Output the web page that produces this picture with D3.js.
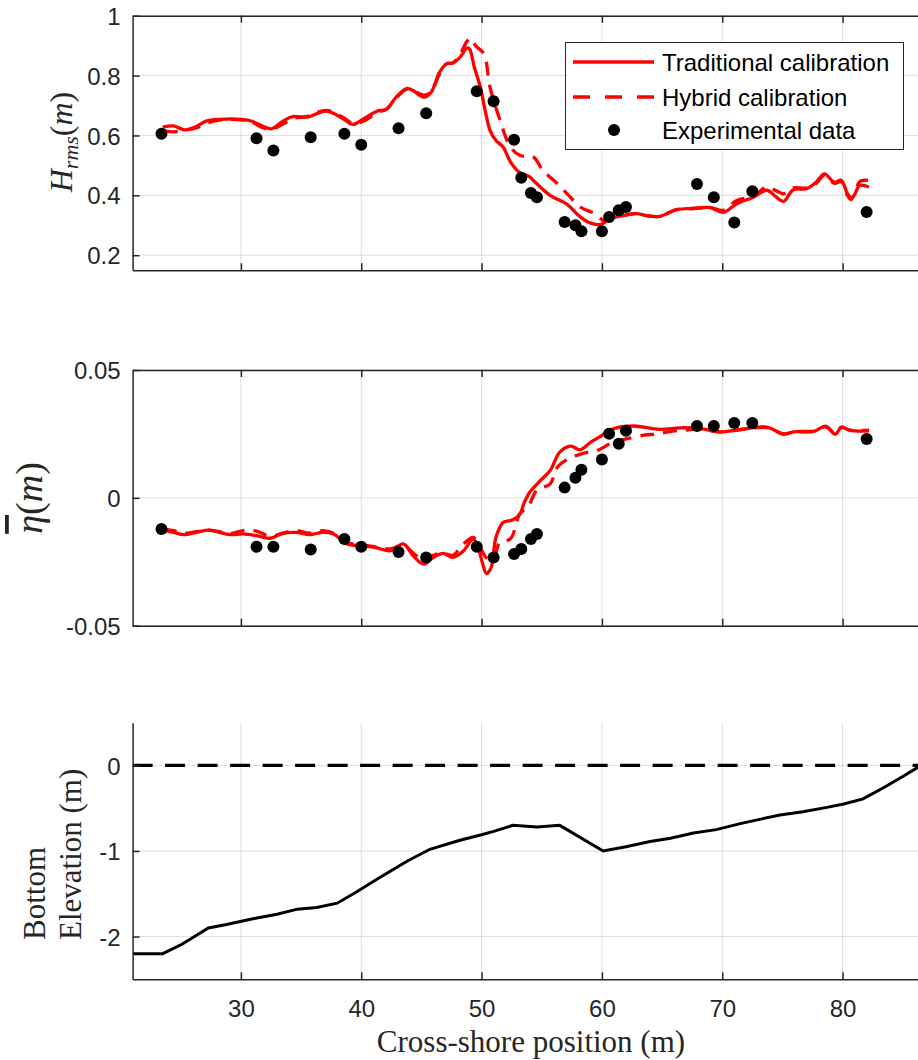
<!DOCTYPE html>
<html>
<head>
<meta charset="utf-8">
<script src="https://cdn.jsdelivr.net/npm/d3@7"></script>
<style>
  body { margin: 0; background: #fff; }
  svg { display: block; }
</style>
</head>
<body>
<div id="chart"></div>
<script>
// experimental data (shared stations)
const expX = [23.4, 31.3, 32.7, 35.8, 38.6, 40.0, 43.1, 45.4, 49.6, 51.0, 52.7, 53.3, 54.1, 54.6,
  56.9, 57.8, 58.3, 60.0, 60.6, 61.4, 62.0, 67.9, 69.3, 71.0, 72.5, 82.0];
const expH = [0.606, 0.591, 0.550, 0.594, 0.606, 0.569, 0.624, 0.674, 0.748, 0.714, 0.586, 0.459, 0.408, 0.394,
  0.311, 0.300, 0.280, 0.280, 0.328, 0.350, 0.361, 0.438, 0.394, 0.309, 0.414, 0.344];
const expSetup = [-0.0122, -0.0191, -0.0191, -0.0202, -0.0161, -0.0191, -0.0212, -0.0233, -0.0191, -0.0233, -0.0220, -0.0200, -0.0161, -0.0141,
  0.0040, 0.0079, 0.0110, 0.0150, 0.0251, 0.0212, 0.0262, 0.0281, 0.0281, 0.0293, 0.0293, 0.0230];

// traditional calibration, Hrms
const tradHX = [23.5, 24.4, 25.3, 26.3, 27.1, 28.3, 30.0, 30.7, 31.9, 32.5, 33.5, 34.3, 35.5, 37.1, 38.5, 39.3,
  40.2, 41.3, 42.1, 42.9, 43.8, 44.3, 45.2, 45.8, 46.5, 47.1, 47.6, 48.2, 48.8, 49.0, 49.4, 49.9,
  50.3, 50.7, 51.2, 51.8, 52.4, 53.2, 54.0, 54.3, 55.7, 57.1, 58.2, 59.0, 59.9, 60.7, 61.8, 62.9,
  63.7, 64.8, 66.2, 67.6, 69.0, 70.1, 71.2, 72.6, 73.7, 74.5, 75.1, 75.9, 77.0, 77.8, 78.5, 79.3,
  79.9, 80.4, 80.8, 81.4, 81.7, 82.2];
const tradH = [0.628, 0.632, 0.619, 0.630, 0.648, 0.654, 0.654, 0.650, 0.630, 0.622, 0.648, 0.663, 0.661, 0.681, 0.656, 0.637,
  0.656, 0.681, 0.688, 0.728, 0.757, 0.750, 0.728, 0.744, 0.811, 0.839, 0.842, 0.861, 0.892, 0.889, 0.828, 0.761,
  0.683, 0.617, 0.583, 0.561, 0.512, 0.475, 0.462, 0.450, 0.400, 0.370, 0.328, 0.308, 0.303, 0.322, 0.333, 0.339,
  0.332, 0.330, 0.352, 0.356, 0.359, 0.343, 0.372, 0.394, 0.417, 0.394, 0.380, 0.419, 0.422, 0.444, 0.472, 0.444,
  0.450, 0.406, 0.392, 0.433, 0.433, 0.428];

// hybrid calibration, Hrms
const hybHX = [23.6, 24.4, 25.3, 26.3, 27.1, 28.3, 30.0, 30.7, 31.9, 32.5, 33.5, 34.3, 35.5, 37.1, 38.5, 39.3,
  40.2, 41.3, 42.1, 42.9, 43.8, 44.3, 45.2, 45.8, 46.5, 47.1, 47.6, 48.2, 48.8, 49.1, 49.5, 50.2,
  50.7, 51.5, 52.4, 53.2, 54.3, 55.1, 56.3, 57.1, 58.2, 59.4, 60.2, 60.7, 61.8, 62.9, 63.7, 64.8,
  66.2, 67.6, 69.0, 70.1, 71.2, 72.6, 73.7, 74.5, 75.1, 75.9, 77.0, 77.8, 78.5, 79.3, 79.9, 80.4,
  80.7, 81.4, 81.7, 82.2];
const hybH = [0.615, 0.612, 0.617, 0.625, 0.640, 0.652, 0.652, 0.648, 0.625, 0.620, 0.638, 0.656, 0.664, 0.684, 0.660, 0.640,
  0.648, 0.676, 0.688, 0.725, 0.755, 0.750, 0.735, 0.745, 0.805, 0.840, 0.842, 0.870, 0.915, 0.925, 0.900, 0.872,
  0.761, 0.655, 0.561, 0.533, 0.528, 0.483, 0.439, 0.406, 0.361, 0.339, 0.315, 0.322, 0.333, 0.339, 0.332, 0.330,
  0.352, 0.356, 0.359, 0.350, 0.383, 0.398, 0.428, 0.415, 0.405, 0.425, 0.425, 0.440, 0.468, 0.440, 0.445, 0.400,
  0.386, 0.445, 0.450, 0.450];

// traditional calibration, setup
const tradSX = [23.5, 24.4, 25.3, 26.3, 27.3, 28.0, 29.1, 30.2, 31.3, 32.4, 33.5, 34.6, 35.7, 36.8, 37.7, 38.8,
  40.2, 41.3, 42.4, 43.5, 44.3, 45.2, 46.0, 46.8, 47.6, 48.5, 49.3, 49.7, 50.1, 50.4, 50.8, 51.2,
  51.8, 52.6, 53.2, 53.5, 54.0, 54.9, 55.7, 56.5, 57.4, 58.2, 59.0, 59.9, 61.0, 62.6, 64.8, 66.5,
  68.2, 69.8, 71.5, 73.7, 75.1, 75.9, 77.6, 78.6, 79.4, 79.9, 80.6, 82.2];
const tradS = [-0.0126, -0.0135, -0.0144, -0.0135, -0.0126, -0.0132, -0.0144, -0.0141, -0.0148, -0.0158, -0.0139, -0.0135, -0.0144, -0.0135, -0.0141, -0.0180,
  -0.0187, -0.0196, -0.0207, -0.0180, -0.0226, -0.0259, -0.0233, -0.0217, -0.0233, -0.0207, -0.0161, -0.0194, -0.0259, -0.0296, -0.0272, -0.0154,
  -0.0096, -0.0086, -0.0063, -0.0024, 0.0022, 0.0068, 0.0107, 0.0179, 0.0202, 0.0188, 0.0215, 0.0241, 0.0271, 0.0281, 0.0268, 0.0274,
  0.0271, 0.0258, 0.0267, 0.0277, 0.0249, 0.0258, 0.0260, 0.0280, 0.0249, 0.0277, 0.0264, 0.0262];

// hybrid calibration, setup
const hybSX = [23.5, 24.4, 25.3, 26.3, 27.3, 28.0, 29.1, 30.2, 31.3, 32.4, 33.5, 34.6, 35.7, 36.8, 37.7, 38.8,
  40.2, 41.3, 42.4, 43.5, 44.3, 45.2, 46.0, 46.8, 47.6, 48.5, 49.3, 49.7, 50.4, 51.0, 51.5, 52.4,
  53.2, 53.8, 54.6, 55.7, 56.3, 57.1, 58.5, 59.6, 61.0, 61.8, 63.5, 64.6, 66.0, 67.0, 68.2, 69.8,
  71.5, 73.7, 75.1, 75.9, 77.6, 78.6, 79.4, 79.9, 80.6, 82.2];
const hybS = [-0.0122, -0.0128, -0.0138, -0.0132, -0.0126, -0.0130, -0.0140, -0.0128, -0.0130, -0.0150, -0.0138, -0.0128, -0.0138, -0.0128, -0.0138, -0.0175,
  -0.0185, -0.0192, -0.0200, -0.0185, -0.0215, -0.0245, -0.0225, -0.0215, -0.0225, -0.0180, -0.0155, -0.0175, -0.0235, -0.0240, -0.0175, -0.0160,
  -0.0060, -0.0040, 0.0030, 0.0055, 0.0120, 0.0150, 0.0175, 0.0185, 0.0220, 0.0228, 0.0245, 0.0250, 0.0262, 0.0265, 0.0270, 0.0258,
  0.0267, 0.0275, 0.0250, 0.0258, 0.0262, 0.0278, 0.0252, 0.0275, 0.0265, 0.0265];

// bottom profile
const bedX = [21.0, 23.5, 25.1, 27.3, 28.8, 31.1, 33.0, 34.7, 36.3, 38.0, 39.6, 41.3, 43.8, 45.7, 48.2,
  50.0, 51.0, 52.6, 54.6, 56.5, 60.1, 62.0, 64.0, 65.7, 67.6, 69.5, 71.5, 73.1, 74.8, 76.7, 78.7,
  80.1, 81.7, 83.4, 85.0, 86.5];
const bedZ = [-2.20, -2.20, -2.09, -1.90, -1.86, -1.79, -1.74, -1.68, -1.66, -1.61, -1.48, -1.33, -1.12, -0.98, -0.875,
  -0.81, -0.77, -0.70, -0.72, -0.70, -1.00, -0.95, -0.89, -0.85, -0.79, -0.75, -0.68, -0.63, -0.58, -0.54, -0.49,
  -0.45, -0.39, -0.26, -0.13, 0.0];

const xTicks = [30, 40, 50, 60, 70, 80];
const hTicks = [0.2, 0.4, 0.6, 0.8, 1];
const sTicks = [-0.05, 0, 0.05];
const zTicks = [-2, -1, 0];
const legendLabels = ["Traditional calibration", "Hybrid calibration", "Experimental data"];

const W = 918, H = 1060;
const axisColor = "#262626";
const tickFont = "'Liberation Sans', Arial, sans-serif";
const serif = "'Liberation Serif', 'Times New Roman', serif";

// matlab style: plain hyphen for negatives
const hy = f => d => f(d).replace("\u2212", "-");

const svg = d3.select("#chart").append("svg")
  .attr("width", W).attr("height", H);

const x = d3.scaleLinear().domain([21, 86.5]).range([132.6, 920.8]);

const panels = [
  { y: d3.scaleLinear().domain([0.15, 1]).range([270.2, 15.7]), ticks: hTicks, box: true, fmt: d => d === 1 ? "1" : d3.format(".1f")(d) },
  { y: d3.scaleLinear().domain([-0.05, 0.05]).range([625.7, 370]), ticks: sTicks, box: true, fmt: hy(d => d === 0 ? "0" : d3.format(".2f")(d)) },
  { y: d3.scaleLinear().domain([-2.5, 0.5]).range([979.3, 722.7]), ticks: zTicks, box: false, fmt: hy(d3.format("d")) }
];

panels.forEach((p, i) => {
  const y = p.y;
  const [y0, y1] = y.range();
  const g = svg.append("g");

  // clip
  svg.append("clipPath").attr("id", "clip" + i)
    .append("rect").attr("x", x.range()[0]).attr("y", y1)
    .attr("width", x.range()[1] - x.range()[0]).attr("height", y0 - y1);

  // grid
  g.selectAll(".gx").data(xTicks).enter().append("line")
    .attr("x1", d => x(d)).attr("x2", d => x(d))
    .attr("y1", y0).attr("y2", y1)
    .attr("stroke", axisColor).attr("stroke-opacity", 0.15).attr("stroke-width", 1);
  g.selectAll(".gy").data(p.ticks).enter().append("line")
    .attr("x1", x.range()[0]).attr("x2", x.range()[1])
    .attr("y1", d => y(d)).attr("y2", d => y(d))
    .attr("stroke", axisColor).attr("stroke-opacity", 0.15).attr("stroke-width", 1);
});

function styleAxis(sel) {
  sel.selectAll(".domain").attr("stroke", axisColor).attr("stroke-width", 1.5);
  sel.selectAll(".tick line").attr("stroke", axisColor).attr("stroke-width", 1.5);
  sel.selectAll(".tick text").attr("fill", axisColor).attr("font-family", tickFont).attr("font-size", 24);
}

// ---- top panel : Hrms
const yH = panels[0].y;
const lineH = (xs) => d3.line().x((d, i) => x(xs[i])).y(d => yH(d)).curve(d3.curveCatmullRom);

const plotH = svg.append("g").attr("clip-path", "url(#clip0)");
plotH.append("path").datum(hybH)
  .attr("fill", "none").attr("stroke", "#ff0000").attr("stroke-width", 3.3)
  .attr("stroke-dasharray", "14,9").attr("d", lineH(hybHX));
plotH.append("path").datum(tradH)
  .attr("fill", "none").attr("stroke", "#ff0000").attr("stroke-width", 3.3)
  .attr("d", lineH(tradHX));
plotH.selectAll("circle").data(expH).enter().append("circle")
  .attr("cx", (d, i) => x(expX[i])).attr("cy", d => yH(d)).attr("r", 6).attr("fill", "#000");

// ---- middle panel : setup
const yS = panels[1].y;
const lineS = (xs) => d3.line().x((d, i) => x(xs[i])).y(d => yS(d)).curve(d3.curveCatmullRom);

const plotS = svg.append("g").attr("clip-path", "url(#clip1)");
plotS.append("path").datum(hybS)
  .attr("fill", "none").attr("stroke", "#ff0000").attr("stroke-width", 3.3)
  .attr("stroke-dasharray", "14,9").attr("d", lineS(hybSX));
plotS.append("path").datum(tradS)
  .attr("fill", "none").attr("stroke", "#ff0000").attr("stroke-width", 3.3)
  .attr("d", lineS(tradSX));
plotS.selectAll("circle").data(expSetup).enter().append("circle")
  .attr("cx", (d, i) => x(expX[i])).attr("cy", d => yS(d)).attr("r", 6).attr("fill", "#000");

// ---- bottom panel : bathymetry
const yZ = panels[2].y;
const plotZ = svg.append("g").attr("clip-path", "url(#clip2)");
plotZ.append("line")
  .attr("x1", x.range()[0]).attr("x2", x.range()[1])
  .attr("y1", yZ(0)).attr("y2", yZ(0))
  .attr("stroke", "#000").attr("stroke-width", 3.2).attr("stroke-dasharray", "20,12.5");
plotZ.append("path").datum(bedZ)
  .attr("fill", "none").attr("stroke", "#000").attr("stroke-width", 3)
  .attr("d", d3.line().x((d, i) => x(bedX[i])).y(d => yZ(d)));

// ---- axes
panels.forEach((p, i) => {
  const y = p.y;
  const [y0, y1] = y.range();
  const last = i === panels.length - 1;

  svg.append("g").attr("transform", `translate(${x.range()[0]},0)`)
    .call(d3.axisLeft(y).tickValues(p.ticks).tickFormat(p.fmt).tickSize(-7).tickSizeOuter(0).tickPadding(12))
    .call(styleAxis)
    .call(g => g.selectAll(".tick text").attr("dy", "0.36em"));

  svg.append("g").attr("transform", `translate(0,${y0})`)
    .call(d3.axisBottom(x).tickValues(xTicks).tickFormat(last ? d3.format("d") : () => "")
      .tickSize(-7).tickSizeOuter(0).tickPadding(21))
    .call(styleAxis);

  if (p.box) {
    svg.append("g").attr("transform", `translate(0,${y1})`)
      .call(d3.axisTop(x).tickValues(xTicks).tickFormat(() => "").tickSize(-7).tickSizeOuter(0))
      .call(styleAxis);
  }
});

// ---- axis labels
const hLab = svg.append("text")
  .attr("transform", "translate(72,142) rotate(-90)")
  .attr("text-anchor", "middle")
  .attr("font-family", serif).attr("font-size", 32).attr("fill", axisColor);
hLab.append("tspan").attr("font-style", "italic").text("H");
hLab.append("tspan").attr("font-style", "italic").attr("font-size", 22).attr("dy", 6).text("rms");
hLab.append("tspan").attr("dy", -6).text("(");
hLab.append("tspan").attr("font-style", "italic").text("m");
hLab.append("tspan").text(")");

const sLab = svg.append("text")
  .attr("transform", "translate(42,498) rotate(-90)")
  .attr("text-anchor", "middle")
  .attr("font-family", serif).attr("font-size", 38).attr("fill", axisColor);
sLab.append("tspan").attr("font-style", "italic").attr("text-decoration", "overline").text("η");
sLab.append("tspan").text("(");
sLab.append("tspan").attr("font-style", "italic").text("m");
sLab.append("tspan").text(")");

svg.append("text")
  .attr("transform", "translate(45,940) rotate(-90)")
  .attr("font-family", serif).attr("font-size", 31).attr("fill", axisColor)
  .text("Bottom");
svg.append("text")
  .attr("transform", "translate(81,940) rotate(-90)")
  .attr("font-family", serif).attr("font-size", 31).attr("fill", axisColor)
  .text("Elevation (m)");

svg.append("text")
  .attr("x", 531).attr("y", 1052)
  .attr("text-anchor", "middle")
  .attr("font-family", serif).attr("font-size", 31).attr("fill", axisColor)
  .text("Cross-shore position (m)");

// ---- legend
const leg = svg.append("g");
leg.append("rect")
  .attr("x", 565.5).attr("y", 42.5).attr("width", 338).attr("height", 107)
  .attr("fill", "#fff").attr("stroke", axisColor).attr("stroke-width", 1);
const rowY = [62, 97, 130];
leg.append("line").attr("x1", 573).attr("x2", 654).attr("y1", rowY[0]).attr("y2", rowY[0])
  .attr("stroke", "#ff0000").attr("stroke-width", 3.3);
leg.append("line").attr("x1", 573).attr("x2", 654).attr("y1", rowY[1]).attr("y2", rowY[1])
  .attr("stroke", "#ff0000").attr("stroke-width", 3.3).attr("stroke-dasharray", "17,15");
leg.append("circle").attr("cx", 614).attr("cy", rowY[2]).attr("r", 6).attr("fill", "#000");
leg.selectAll("text.lab").data(legendLabels).enter().append("text")
  .attr("x", 662).attr("y", (d, i) => rowY[i])
  .attr("dy", "0.36em")
  .attr("font-family", tickFont).attr("font-size", 24).attr("fill", "#000")
  .text(d => d);
</script>
</body>
</html>
